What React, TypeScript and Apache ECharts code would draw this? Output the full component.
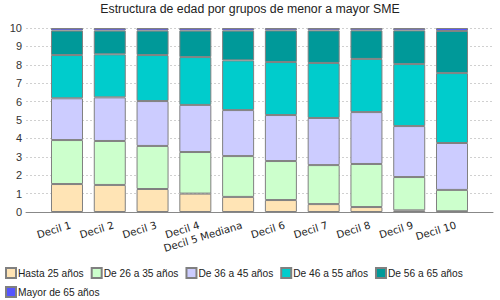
import React, { useEffect, useRef } from "react";
import * as echarts from "echarts";

const categories = ["Decil 1", "Decil 2", "Decil 3", "Decil 4", "Decil 5 Mediana", "Decil 6", "Decil 7", "Decil 8", "Decil 9", "Decil 10"];
const seriesNames = ["Hasta 25 años", "De 26 a 35 años", "De 36 a 45 años", "De 46 a 55 años", "De 56 a 65 años", "Mayor de 65 años"];
const hasta25 = [1.52, 1.47, 1.25, 1.0, 0.82, 0.65, 0.43, 0.27, 0.09, 0.04];
const de26a35 = [2.39, 2.39, 2.34, 2.26, 2.22, 2.12, 2.12, 2.34, 1.81, 1.16];
const de36a45 = [2.27, 2.37, 2.44, 2.56, 2.5, 2.5, 2.56, 2.82, 2.77, 2.55];
const de46a55 = [2.35, 2.34, 2.5, 2.6, 2.7, 2.88, 2.99, 2.89, 3.37, 3.8];
const de56a65 = [1.33, 1.29, 1.33, 1.44, 1.62, 1.72, 1.77, 1.55, 1.83, 2.29];
const mayor65 = [0.14, 0.14, 0.14, 0.14, 0.14, 0.13, 0.13, 0.13, 0.13, 0.16];
const yTicks = [0, 1, 2, 3, 4, 5, 6, 7, 8, 9, 10];

const colors = ["#FFE4B5", "#CCFFCC", "#CCCCFF", "#00CCCC", "#009999", "#5555FF"];
const FONT = "Liberation Sans";

export default function App() {
  const ref = useRef<HTMLDivElement>(null);
  useEffect(() => {
    if (!ref.current) return;
    const chart = echarts.init(ref.current, undefined, { renderer: "svg" });
    const values = [hasta25, de26a35, de36a45, de46a55, de56a65, mayor65];
    chart.setOption({
      animation: false,
      backgroundColor: "#ffffff",
      textStyle: { fontFamily: FONT },
      title: {
        text: "Estructura de edad por grupos de menor a mayor SME",
        left: "center",
        top: 2,
        padding: 0,
        textStyle: { fontSize: 12.3, fontWeight: "normal", color: "#222", fontFamily: FONT, lineHeight: 14 },
      },
      legend: {
        left: 5,
        top: 267,
        width: 480,
        itemWidth: 10,
        itemHeight: 10,
        itemGap: 7,
        icon: "rect",
        padding: 0,
        data: seriesNames,
        textStyle: { fontSize: 10.2, color: "#222", fontFamily: FONT, lineHeight: 11, padding: [0, 0, 0, -3] },
      },
      grid: [
        { left: 26, right: 7, top: 28, bottom: 88 },
        { left: 45.6, right: 26.6, top: 28, bottom: 88 },
      ],
      xAxis: [
        {
          gridIndex: 0,
          type: "value",
          min: 0,
          max: 1,
          axisLine: { show: true, lineStyle: { color: "#888", width: 1 } },
          axisTick: { show: false },
          axisLabel: { show: false },
          splitLine: { show: false },
        },
        {
          gridIndex: 1,
          type: "category",
          data: categories,
          axisLine: { show: false },
          axisTick: { show: false },
          axisLabel: {
            rotate: 17,
            fontSize: 10.2,
            color: "#222",
            margin: 14,
            interval: 0,
            fontFamily: "DejaVu Sans",
            padding: [0, -4, 0, 0],
          },
        },
      ],
      yAxis: [
        {
          gridIndex: 0,
          type: "value",
          min: yTicks[0],
          max: yTicks[yTicks.length - 1],
          interval: 1,
          axisLine: { show: false },
          axisTick: { show: false },
          axisLabel: { fontSize: 11, color: "#333", margin: 4, fontFamily: FONT },
          splitLine: { show: true, lineStyle: { color: "#d0d0d0", type: [2, 2], width: 1 } },
        },
        {
          gridIndex: 1,
          type: "value",
          min: 0,
          max: 10,
          show: false,
          splitLine: { show: false },
        },
      ],
      series: seriesNames.map((name, i) => ({
        name,
        type: "bar",
        stack: "total",
        xAxisIndex: 1,
        yAxisIndex: 1,
        barWidth: 32,
        data: values[i],
        itemStyle: { color: colors[i], borderColor: "#808080", borderWidth: 1 },
        emphasis: { disabled: true },
      })),
    });
    return () => chart.dispose();
  }, []);
  return <div ref={ref} style={{ position: "absolute", left: 0, top: 0, width: 500, height: 300 }} />;
}
